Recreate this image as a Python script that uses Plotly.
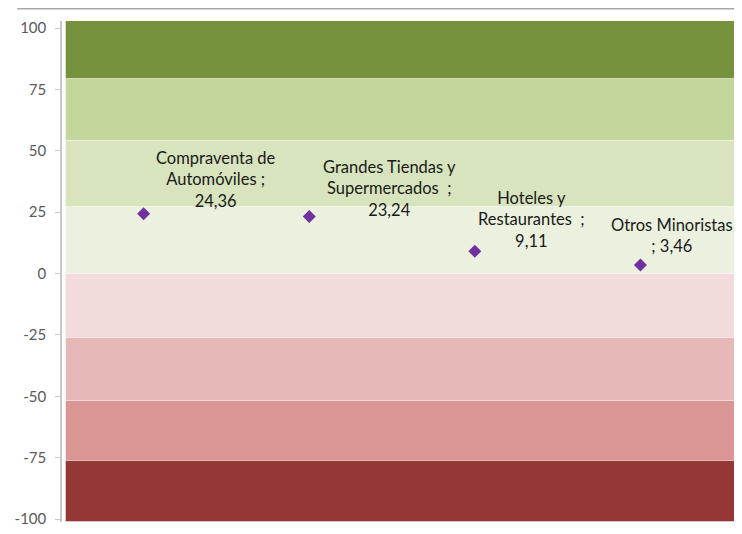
import plotly.graph_objects as go

# ---- data ----
categories = ["Compraventa de<br>Automóviles ;", "Grandes Tiendas y<br>Supermercados  ;",
              "Hoteles y<br>Restaurantes  ;", "Otros Minoristas<br>;"]
values = [24.36, 23.24, 9.11, 3.46]
positions = [0, 1, 2, 3]

band_pos = [27.0, 27.2, 25.2, 23.5]
band_neg = [-26.2, -25.6, -24.4, -25.0]
band_pos_colors = ["#EBF1DE", "#D7E4BD", "#C3D69B", "#77923C"]
band_neg_colors = ["#F2DCDB", "#E6B9B8", "#D99694", "#953735"]

tick_vals = [100, 75, 50, 25, 0, -25, -50, -75, -100]
tick_text = ["100", "75", "50", "25", "0", "-25", "-50", "-75", "-100"]

label_xshift = [72, 80, 57, 32]
label_yshift = [34, 28, 32, 30]

fig = go.Figure()

for v, c in zip(band_pos + band_neg, band_pos_colors + band_neg_colors):
    fig.add_trace(go.Bar(x=[0], y=[v], width=1,
                         marker=dict(color=c, line=dict(color="rgba(255,255,255,0.4)", width=1)),
                         xaxis="x", yaxis="y", hoverinfo="skip", showlegend=False))

fig.add_trace(go.Scatter(x=positions, y=values, mode="markers", xaxis="x2", yaxis="y",
                         marker=dict(symbol="diamond", size=10, color="#7030A0"),
                         showlegend=False, hoverinfo="skip"))

for i, (cat, v) in enumerate(zip(categories, values)):
    val = f"{v:.2f}".replace(".", ",")
    if cat.endswith("<br>;"):
        text = cat[:-5] + "<br>; " + val
    else:
        text = cat + "<br>" + val
    fig.add_annotation(x=positions[i], y=v, xref="x2", yref="y", text=text, showarrow=False,
                       xshift=label_xshift[i], yshift=label_yshift[i], xanchor="center", yanchor="middle",
                       align="center", font=dict(family="Lato", size=16.5, color="#1A1A1A"))

fig.update_layout(
    width=734, height=526,
    margin=dict(l=51, r=7, t=13, b=8),
    paper_bgcolor="white", plot_bgcolor="white",
    barmode="relative", bargap=0,
    xaxis=dict(range=[-0.506, 0.5], visible=False, fixedrange=True),
    xaxis2=dict(range=[-0.493, 3.571], overlaying="x", visible=False),
    yaxis=dict(range=[-101.2, 102.9], tickvals=tick_vals, ticktext=tick_text,
               showgrid=False, zeroline=False, showline=True, linecolor="#C8C8C8", linewidth=1.5,
               ticks="outside", ticklen=5, tickcolor="#C8C8C8", ticklabelstandoff=6,
               tickfont=dict(family="Lato", size=15, color="#595959")),
    shapes=[dict(type="line", xref="paper", yref="paper", x0=-0.0666, x1=1.0, y0=1.0243, y1=1.0243,
                 line=dict(color="#A6A6A6", width=1.5))],
)

fig.write_html("out.html")
